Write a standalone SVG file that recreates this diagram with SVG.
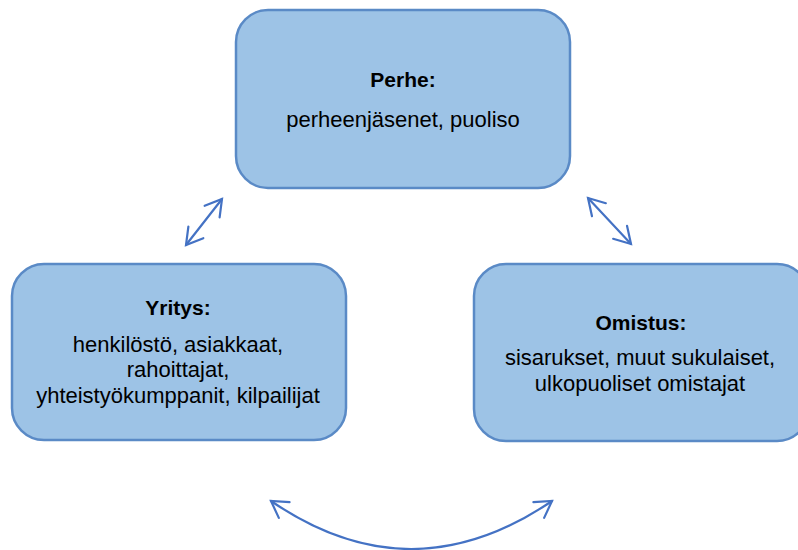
<svg xmlns="http://www.w3.org/2000/svg" width="798" height="550" viewBox="0 0 798 550">
<defs>
<style>
.box{fill:#9DC3E6;stroke:#5A8AC6;stroke-width:2.5}
.t{font-family:"Liberation Sans",Arial,sans-serif;font-size:22px;fill:#000;text-anchor:middle}
.b{font-weight:bold;font-size:21px}
.c{fill:none;stroke:#4472C4;stroke-width:2.2;stroke-linecap:round}
</style>
<marker id="ah" markerUnits="userSpaceOnUse" viewBox="-20 -12 24 24" markerWidth="24" markerHeight="24" refX="0" refY="0" orient="auto-start-reverse">
<path d="M-16,-9.5 L0,0 L-16,9.5" fill="none" stroke="#4472C4" stroke-width="2.2" stroke-linecap="round" stroke-linejoin="miter"/>
</marker>
</defs>
<rect width="798" height="550" fill="#fff"/>
<g id="perhe">
<rect class="box" x="236" y="10" width="334" height="178" rx="32"/>
<text class="t b" x="403" y="87">Perhe:</text>
<text class="t" x="403" y="127">perheenjäsenet, puoliso</text>
</g>
<g id="yritys">
<rect class="box" x="12" y="264" width="334" height="176" rx="32"/>
<text class="t b" x="178" y="315">Yritys:</text>
<text class="t" x="178" y="352">henkilöstö, asiakkaat,</text>
<text class="t" x="178" y="377">rahoittajat,</text>
<text class="t" x="178" y="403">yhteistyökumppanit, kilpailijat</text>
</g>
<g id="omistus">
<rect class="box" x="474" y="264" width="335" height="177" rx="32"/>
<text class="t b" x="641" y="330">Omistus:</text>
<text class="t" x="640" y="365">sisarukset, muut sukulaiset,</text>
<text class="t" x="640" y="391">ulkopuoliset omistajat</text>
</g>
<g id="connectors">
<path class="c" d="M186,245 L222,199" marker-start="url(#ah)" marker-end="url(#ah)"/>
<path class="c" d="M588,198 L631,244" marker-start="url(#ah)" marker-end="url(#ah)"/>
<path class="c" d="M271,501 Q411,597 552,501" marker-start="url(#ah)" marker-end="url(#ah)"/>
</g>
</svg>
